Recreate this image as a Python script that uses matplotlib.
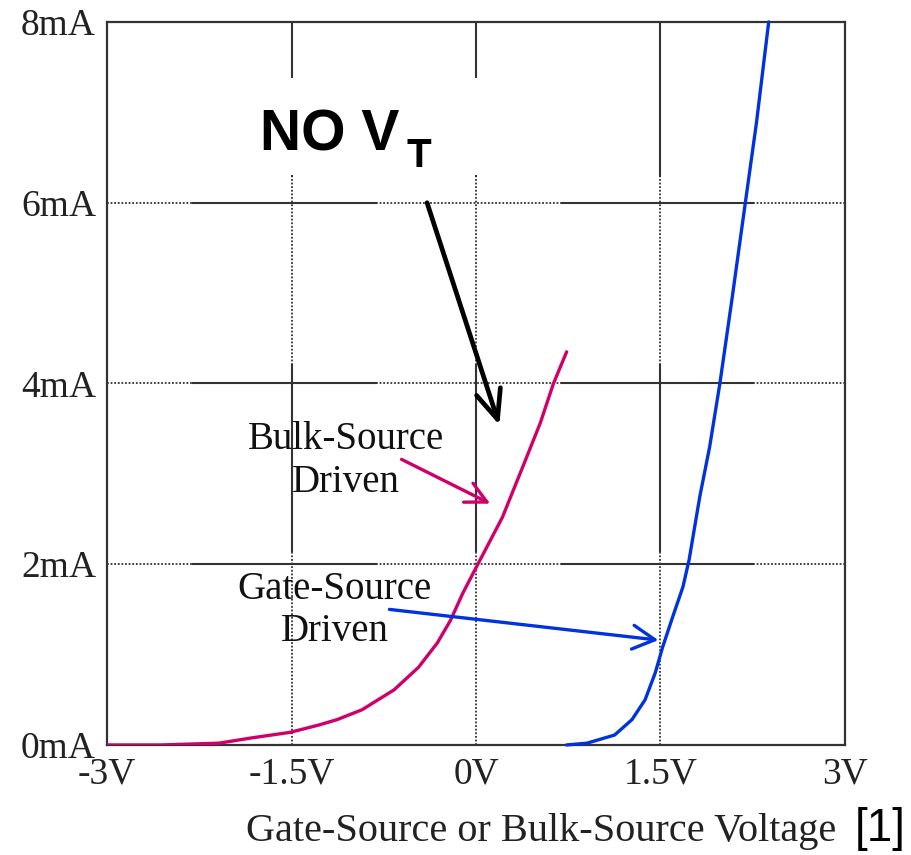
import numpy as np
import matplotlib.pyplot as plt

# values (V, mA)
bulk_v = [-3.0, -2.56, -2.09, -1.815, -1.51, -1.28, -1.13, -0.926, -0.666, -0.467, -0.314,
          -0.207, -0.107, -0.008, 0.215, 0.381, 0.522, 0.630, 0.737]
bulk_i = [0.0, 0.0, 0.02, 0.08, 0.14, 0.22, 0.28, 0.39, 0.61, 0.86, 1.13,
          1.38, 1.68, 1.94, 2.52, 3.08, 3.56, 4.00, 4.35]

gate_v = [0.737, 0.903, 1.127, 1.268, 1.375, 1.458, 1.517, 1.60, 1.683, 1.733, 1.82,
          1.90, 1.983, 2.08, 2.19, 2.28, 2.38]
gate_i = [0.0, 0.02, 0.11, 0.28, 0.50, 0.80, 1.08, 1.42, 1.75, 2.05, 2.75,
          3.30, 4.00, 4.92, 6.00, 6.88, 8.0]

x_ticks = [-3, -1.5, 0, 1.5, 3]
x_labels = ['-3V', '-1.5V', '0V', '1.5V', '3V']
y_ticks = [0, 2, 4, 6, 8]
y_labels = ['0mA', '2mA', '4mA', '6mA', '8mA']

serif = ['Liberation Serif', 'DejaVu Serif']
sans = ['Liberation Sans', 'DejaVu Sans']
magenta = '#d0006a'
blue = '#0033dd'
gcol = '#333333'

fig = plt.figure(figsize=(9.11, 8.55), dpi=100)
ax = fig.add_axes([0.1175, 0.1287, 0.81, 0.8456])
ax.set_xlim(-3, 3)
ax.set_ylim(0, 8)

# grid: the scan shows alternating solid / dotted stretches
h_solid = [(-2.30, -0.81), (0.70, 2.25)]
h_dot = [(-3, -2.30), (-0.81, 0.70), (2.25, 3)]
v_solid = [(6.3, 8), (2.15, 4.2)]
v_dot = [(4.2, 6.3), (0, 2.15)]
for yv in [2, 4, 6]:
    for a, b in h_solid:
        ax.plot([a, b], [yv, yv], color=gcol, lw=1.5, zorder=1)
    for a, b in h_dot:
        ax.plot([a, b], [yv, yv], color=gcol, lw=1.3, ls=(0, (1, 1)), zorder=1)
for xv in [-1.5, 0, 1.5]:
    for a, b in v_solid:
        ax.plot([xv, xv], [a, b], color=gcol, lw=1.5, zorder=1)
    for a, b in v_dot:
        ax.plot([xv, xv], [a, b], color=gcol, lw=1.3, ls=(0, (1, 1)), zorder=1)

ax.plot(bulk_v, bulk_i, color=magenta, lw=2.4, zorder=3, solid_capstyle='round')
ax.plot(gate_v, gate_i, color=blue, lw=2.4, zorder=3, clip_on=False, solid_capstyle='round')

for s in ax.spines.values():
    s.set_color(gcol)
    s.set_linewidth(1.6)

ax.set_xticks(x_ticks)
ax.set_xticklabels(x_labels, family=serif, fontsize=27)
ax.set_yticks(y_ticks)
ax.set_yticklabels(y_labels, family=serif, fontsize=27)
ax.tick_params(axis='y', length=0, pad=8, colors='#222222')
ax.tick_params(axis='x', length=0, pad=9, colors='#222222')

# NO V_T box and arrow
ax.add_patch(plt.Rectangle((-1.94, 6.31), 2.155, 1.07, facecolor='white', edgecolor='none', zorder=2))
ax.text(-1.757, 6.58, 'NO V', family=sans, fontweight='bold', fontsize=41, zorder=4)
ax.text(-0.567, 6.40, 'T', family=sans, fontweight='bold', fontsize=29, zorder=4)
ax.annotate('', xy=(0.19, 3.54), xytext=(-0.398, 6.0),
            arrowprops=dict(arrowstyle='->,head_length=1.05,head_width=0.45', mutation_scale=20,
                            color='black', lw=3.4, shrinkA=0, shrinkB=0), zorder=4)

# labels for the curves
ax.text(-1.056, 3.14, 'Bulk-Source\nDriven', family=serif, fontsize=28, ha='center', va='center',
        linespacing=1.2, color='#111111', zorder=4)
ax.annotate('', xy=(0.116, 2.67), xytext=(-0.605, 3.16),
            arrowprops=dict(arrowstyle='->,head_length=0.75,head_width=0.38', mutation_scale=20,
                            color=magenta, lw=2.4, shrinkA=0, shrinkB=0), zorder=4)

ax.text(-1.148, 1.49, 'Gate-Source\nDriven', family=serif, fontsize=28, ha='center', va='center',
        linespacing=1.2, color='#111111', zorder=4)
ax.annotate('', xy=(1.483, 1.16), xytext=(-0.704, 1.50),
            arrowprops=dict(arrowstyle='->,head_length=0.8,head_width=0.43', mutation_scale=20,
                            color=blue, lw=2.4, shrinkA=0, shrinkB=0), zorder=4)

fig.text(0.594, 0.027, 'Gate-Source or Bulk-Source Voltage', family=serif, fontsize=29,
         ha='center', va='center', color='#222222')
fig.text(0.966, 0.03, '[1]', family=sans, fontsize=33, ha='center', va='center')

fig.savefig('out.png', dpi=100)
